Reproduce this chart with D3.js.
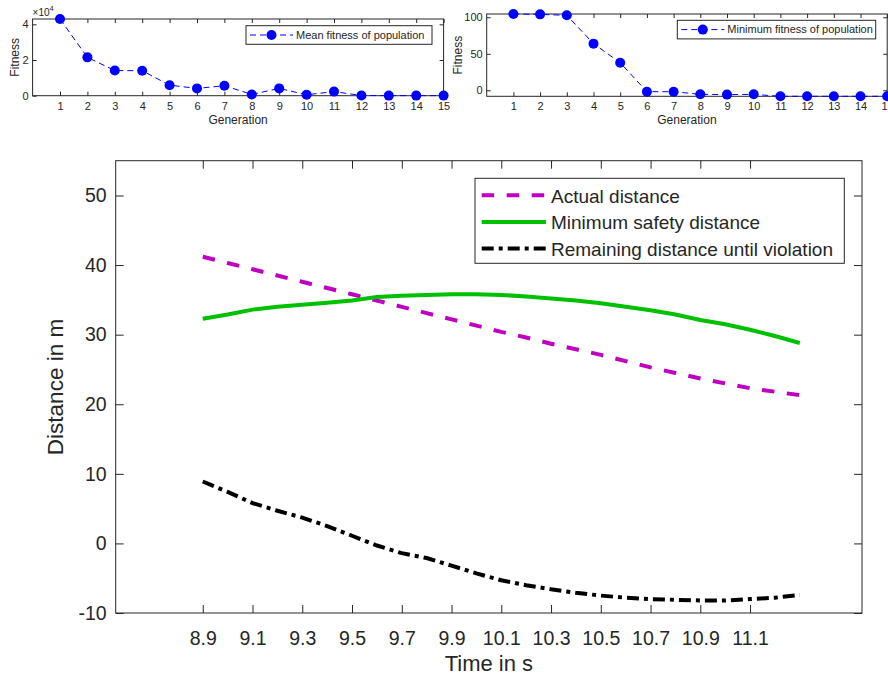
<!DOCTYPE html>
<html>
<head>
<meta charset="utf-8">
<script src="https://cdn.jsdelivr.net/npm/d3@7"></script>
<style>
  body { margin: 0; background: #fff; }
  text { font-family: "Liberation Sans", Arial, sans-serif; fill: #262626; }
</style>
</head>
<body>
<svg id="chart" width="888" height="681"></svg>
<script>
// ---- data ----
const generations = [1, 2, 3, 4, 5, 6, 7, 8, 9, 10, 11, 12, 13, 14, 15];
const meanFitness = [43000, 21500, 14100, 14000, 5900, 4100, 5600, 700, 4100, 500, 2300, 100, 50, 50, 50];
const minFitness = [104.5, 104, 102.7, 63.9, 37.8, -1.9, -1.9, -5.5, -5.9, -5.5, -8.2, -8.2, -8.2, -8.2, -8.2];

const timeS = [8.9, 9.0, 9.1, 9.2, 9.3, 9.4, 9.5, 9.6, 9.7, 9.8, 9.9, 10.0, 10.1,
               10.2, 10.3, 10.4, 10.5, 10.6, 10.7, 10.8, 10.9, 11.0, 11.1, 11.2, 11.3];
const actualDist = [41.2, 40.3, 39.4, 38.5, 37.6, 36.7, 35.8, 34.9, 34.0, 33.1, 32.2, 31.3, 30.4,
                    29.6, 28.7, 27.9, 27.1, 26.2, 25.3, 24.5, 23.7, 23.0, 22.3, 21.8, 21.3];
const minSafetyDist = [32.3, 32.9, 33.6, 34.0, 34.3, 34.6, 34.9, 35.4, 35.6, 35.7, 35.8, 35.8, 35.7,
                       35.5, 35.2, 34.9, 34.5, 34.0, 33.5, 32.9, 32.1, 31.5, 30.7, 29.8, 28.8];
const remainingDist = [8.9, 7.4, 5.8, 4.7, 3.7, 2.5, 1.1, -0.3, -1.4, -2.1, -3.2, -4.3, -5.3,
                       -6.0, -6.6, -7.1, -7.5, -7.8, -8.0, -8.1, -8.2, -8.2, -8.0, -7.8, -7.4];

const timeTicks = [8.9, 9.1, 9.3, 9.5, 9.7, 9.9, 10.1, 10.3, 10.5, 10.7, 10.9, 11.1];
const distTicks = [-10, 0, 10, 20, 30, 40, 50];
const meanTicks = [0, 20000, 40000];
const minTicks = [0, 50, 100];

const seriesNames = ['Actual distance', 'Minimum safety distance', 'Remaining distance until violation'];

const axisColor = '#262626';
const svg = d3.select('#chart');

// box with inward ticks on all four sides
function drawBox(g, x, y, xt, yt, tick, fontSize, padX, padY, xFmt, yFmt) {
    const w = x.range()[1] - x.range()[0];
    const h = y.range()[0] - y.range()[1];
    const bottom = g.append('g').attr('transform', `translate(0,${h})`)
        .call(d3.axisBottom(x).tickValues(xt).tickSize(-tick).tickPadding(padX).tickFormat(xFmt));
    const top = g.append('g')
        .call(d3.axisTop(x).tickValues(xt).tickSize(-tick).tickFormat(''));
    const left = g.append('g')
        .call(d3.axisLeft(y).tickValues(yt).tickSize(-tick).tickPadding(padY).tickFormat(yFmt));
    const right = g.append('g').attr('transform', `translate(${w},0)`)
        .call(d3.axisRight(y).tickValues(yt).tickSize(-tick).tickFormat(''));
    [bottom, top, left, right].forEach(a => {
        a.selectAll('.domain').remove();
        a.selectAll('line').attr('stroke', axisColor);
        a.selectAll('text').style('font-size', fontSize + 'px')
            .style('font-family', '"Liberation Sans", Arial, sans-serif').attr('fill', axisColor);
    });
    g.append('rect').attr('width', w).attr('height', h)
        .attr('fill', 'none').attr('stroke', axisColor).attr('stroke-width', 1);
}

// ---- small fitness charts ----
function fitnessChart(cfg) {
    const x = d3.scaleLinear().domain([0, 15]).range([0, cfg.width]);
    const y = d3.scaleLinear().domain(cfg.yDomain).range([cfg.height, 0]);
    const g = svg.append('g').attr('transform', `translate(${cfg.left},${cfg.top})`);

    drawBox(g, x, y, generations, cfg.yTicks, 4, 11, cfg.padX, 4, d => String(d), cfg.yFmt);

    const line = d3.line().x((d, i) => x(generations[i])).y(d => y(d));
    g.append('path').datum(cfg.values)
        .attr('fill', 'none').attr('stroke', '#0000ff').attr('stroke-width', 1)
        .attr('stroke-dasharray', '6,4').attr('d', line);
    g.selectAll('.pt').data(cfg.values).join('circle')
        .attr('cx', (d, i) => x(generations[i])).attr('cy', d => y(d))
        .attr('r', 5).attr('fill', '#0000ff');

    // legend
    const lg = g.append('g').attr('transform', `translate(${cfg.legend[0]},${cfg.legend[1]})`);
    lg.append('rect').attr('width', cfg.legend[2]).attr('height', 18.6)
        .attr('fill', '#fff').attr('stroke', axisColor);
    lg.append('line').attr('x1', 4).attr('x2', 47).attr('y1', 9.3).attr('y2', 9.3)
        .attr('stroke', '#0000ff').attr('stroke-dasharray', '6,4');
    lg.append('circle').attr('cx', 25.5).attr('cy', 9.3).attr('r', 5).attr('fill', '#0000ff');
    lg.append('text').attr('x', 50).attr('y', 13.2).style('font-size', '11px').text(cfg.label);

    g.append('text').attr('x', cfg.width / 2).attr('y', 124 - cfg.top)
        .attr('text-anchor', 'middle').style('font-size', '12px').text('Generation');
    g.append('text').attr('transform', `translate(${cfg.yLabelX},${cfg.height / 2}) rotate(-90)`)
        .attr('text-anchor', 'middle').style('font-size', '12px').text('Fitness');
    return g;
}

const g1 = fitnessChart({
    left: 32.6, top: 19, width: 411, height: 76.7,
    yDomain: [0, 43000], yTicks: meanTicks, yFmt: d => String(d / 10000), padX: 7,
    values: meanFitness, label: 'Mean fitness of population',
    legend: [213.4, 6.7, 186], yLabelX: -13.6
});
const expo = g1.append('text').attr('x', 0).attr('y', -3).style('font-size', '10px');
expo.append('tspan').text('\u00d710');
expo.append('tspan').attr('dy', -5).style('font-size', '7.5px').text('4');

fitnessChart({
    left: 486.7, top: 14, width: 400.5, height: 82.3,
    yDomain: [-8.2, 104.5], yTicks: minTicks, yFmt: d => String(d), padX: 6,
    values: minFitness, label: 'Minimum fitness of population',
    legend: [190.6, 6.3, 198.4], yLabelX: -24.7
});

// ---- main distance chart ----
const m = { left: 115.7, top: 160.7, right: 862, bottom: 613 };
const xMain = d3.scaleLinear().domain([8.55, 11.55]).range([0, m.right - m.left]);
const yMain = d3.scaleLinear().domain([-10, 55]).range([m.bottom - m.top, 0]);
const main = svg.append('g').attr('transform', `translate(${m.left},${m.top})`);

drawBox(main, xMain, yMain, timeTicks, distTicks, 8, 19.5, 18, 9, d => d.toFixed(1), d => String(d));

const styles = [
    { values: actualDist, color: '#c000c0', dash: '12.5,12.5' },
    { values: minSafetyDist, color: '#00c000', dash: null },
    { values: remainingDist, color: '#000000', dash: '12,5,4,5' }
];

const distLine = d3.line().x((d, i) => xMain(timeS[i])).y(d => yMain(d));
styles.forEach(s => {
    main.append('path').datum(s.values)
        .attr('fill', 'none').attr('stroke', s.color).attr('stroke-width', 4)
        .attr('stroke-dasharray', s.dash).attr('d', distLine);
});

// legend
const leg = main.append('g').attr('transform', `translate(${475 - m.left},${178.3 - m.top})`);
leg.append('rect').attr('width', 369.3).attr('height', 85)
    .attr('fill', '#fff').attr('stroke', axisColor);
styles.forEach((s, i) => {
    const yy = 17 + i * 26.6;
    leg.append('line').attr('x1', 6.7).attr('x2', 71).attr('y1', yy).attr('y2', yy)
        .attr('stroke', s.color).attr('stroke-width', 4).attr('stroke-dasharray', s.dash);
    leg.append('text').attr('x', 76).attr('y', yy + 7.5).style('font-size', '19px').text(seriesNames[i]);
});

svg.append('text').attr('x', (m.left + m.right) / 2).attr('y', 671)
    .attr('text-anchor', 'middle').style('font-size', '22px').text('Time in s');
svg.append('text').attr('transform', `translate(63,387) rotate(-90)`)
    .attr('text-anchor', 'middle').style('font-size', '22.5px').text('Distance in m');
</script>
</body>
</html>
